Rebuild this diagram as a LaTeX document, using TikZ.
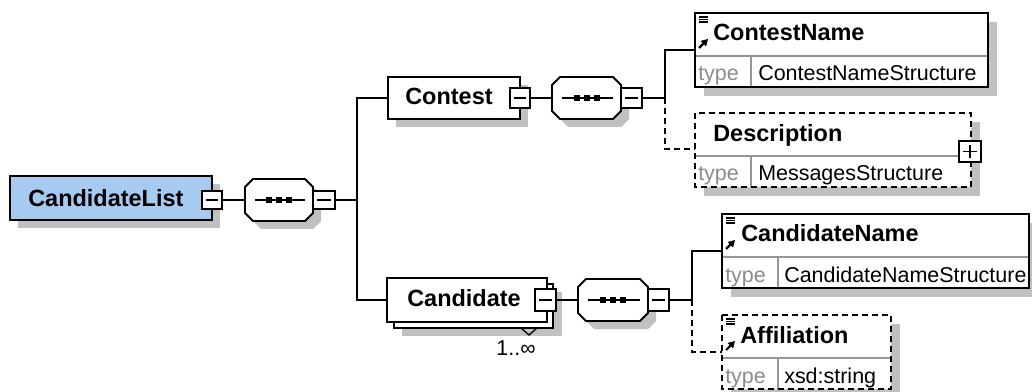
\documentclass[tikz,border=0pt]{standalone}
\usepackage{fontspec}
\setmainfont{Liberation Sans}
\usetikzlibrary{fit,arrows.meta}

\definecolor{shadowgray}{RGB}{192,192,192}
\definecolor{rootblue}{RGB}{166,202,240}
\definecolor{labelgray}{RGB}{140,140,140}
\definecolor{rulegray}{RGB}{150,150,150}

\newcommand\headfont{\fontsize{17.6}{20}\selectfont\bfseries}
\newcommand\bodyfont{\fontsize{16.1}{19}\selectfont}

\tikzset{
  outline/.style={draw=black, line width=1.4pt},
  optional/.style={dash pattern=on 4.5pt off 3pt},
  shadowfill/.style={fill=shadowgray, draw=none},
  conn/.style={draw=black, line width=1.4pt},
  area/.style={inner sep=0pt, outer sep=0pt},
  title/.style={anchor=base west, inner sep=0pt, font=\headfont},
  value/.style={anchor=base west, inner sep=0pt, font=\bodyfont},
  typelabel/.style={anchor=base west, inner sep=0pt, font=\bodyfont, text=labelgray},
  divider/.style={draw=rulegray, line width=0.9pt},
  glyph/.style={line width=1pt},
}

% expand/collapse button: #1 name, (#2,#3)-(#4,#5)
\newcommand\minusbtn[5]{%
  \node[area, fit={(#2,#3) (#4,#5)}, fill=white, outline] (#1) {};
  \draw[glyph] (#2+4,{(#3+#5)/2}) -- (#4-4,{(#3+#5)/2});
}
\newcommand\plusbtn[5]{%
  \minusbtn{#1}{#2}{#3}{#4}{#5}%
  \draw[glyph] ({(#2+#4)/2},#3+4) -- ({(#2+#4)/2},#5-4);
}

% sequence compositor: #1 name, (#2,#3)-(#4,#5)
\newcommand\sequence[5]{%
  \begin{scope}[shift={(8,8)}]
    \fill[shadowfill] (#2+8,#3) -- (#4-8,#3) -- (#4,#3+8) -- (#4,#5-8) -- (#4-8,#5)
      -- (#2+8,#5) -- (#2,#5-8) -- (#2,#3+8) -- cycle;
  \end{scope}
  \filldraw[fill=white, outline] (#2+8,#3) -- (#4-8,#3) -- (#4,#3+8) -- (#4,#5-8) -- (#4-8,#5)
    -- (#2+8,#5) -- (#2,#5-8) -- (#2,#3+8) -- cycle;
  \node[area, fit={(#2,#3) (#4,#5)}] (#1) {};
  \draw[line width=1.3pt] (#2+10,{(#3+#5)/2}) -- (#4-8,{(#3+#5)/2});
  \foreach \d in {-10,0,10}
    \fill ({(#2+#4)/2+\d-3},{(#3+#5)/2-3}) rectangle +(6,6);
}

% element with a type row: #1 name, #2 left, #3 top, #4 right, #5 type split, #6 border style
\newcommand\leafbox[6]{%
  \fill[shadowfill] (#2+9,#3+9) rectangle (#4+9,#3+83);
  \node[area, fit={(#2,#3) (#4,#3+74)}, fill=white] (#1) {};
  \draw[divider] (#2,#3+43) -- (#4,#3+43);
  \draw[divider] (#5,#3+43) -- (#5,#3+74);
  \draw[outline, #6] (#1.north west) rectangle (#1.south east);
}

% global element reference marks: #1 left, #2 top
\newcommand\refmarks[2]{%
  \foreach \k in {4,6.5,9}
    \draw[glyph] (#1+4,#2+\k) -- (#1+13,#2+\k);
  \draw[line width=1.6pt, -{Triangle[length=5pt,width=5.5pt]}] (#1+4,#2+35) -- (#1+13,#2+26);
}

\begin{document}
\begin{tikzpicture}[x=0.75pt,y=-0.75pt]
\useasboundingbox (0,0) rectangle (1032,392);

% ---- root element ----
\fill[shadowfill] (18,184) rectangle (220,228);
\node[area, fit={(10,176) (212,220)}, fill=rootblue, outline] (root) {};
\node[title] (rootlbl) at (28,207) {CandidateList};
\minusbtn{rootm}{202}{191}{222}{209}

\sequence{s1}{245}{179}{313}{221}
\minusbtn{s1m}{313}{191}{335}{209}

% ---- Contest ----
\fill[shadowfill] (396,85) rectangle (528,127);
\node[area, fit={(388,77) (520,119)}, fill=white, outline] (contest) {};
\node[title] (contestlbl) at (405,105) {Contest};
\minusbtn{contestm}{510}{88}{530}{108}

\sequence{s2}{552}{77}{621}{119}
\minusbtn{s2m}{621}{88}{642}{108}

% ---- Candidate (repeated element) ----
\fill[shadowfill] (402,292) rectangle (562,336);
\node[area, fit={(394,284) (553,328)}, fill=white, outline] (candback) {};
\node[area, fit={(387,278) (547,322)}, fill=white, outline] (cand) {};
\node[title] (candlbl) at (407,306) {Candidate};
\draw[glyph] (521,328) -- (529,335) -- (537,328);
\minusbtn{candm}{535}{289}{556}{311}
\node[value, anchor=base] (occurs) at (516,355) {1..∞};

\sequence{s3}{578}{279}{648}{321}
\minusbtn{s3m}{648}{289}{669}{311}

% ---- leaf elements ----
\leafbox{cn}{695}{13}{988}{751}{}
\refmarks{695}{13}
\node[title] at (713,41) {ContestName};
\node[typelabel] at (698,81) {type};
\node[value] at (758,81) {ContestNameStructure};

\leafbox{desc}{695}{113}{971}{751}{optional}
\node[title] at (713,142) {Description};
\node[typelabel] at (698,181) {type};
\node[value] at (758,181) {MessagesStructure};
\plusbtn{descp}{959}{141}{981}{162}

\leafbox{cdn}{722}{214}{1029}{778}{}
\refmarks{722}{214}
\node[title] at (741,242) {CandidateName};
\node[typelabel] at (725,282) {type};
\node[value] at (784,282) {CandidateNameStructure};

\leafbox{aff}{722}{315}{891}{778}{optional}
\refmarks{722}{315}
\node[title] at (740,343) {Affiliation};
\node[typelabel] at (725,383) {type};
\node[value] at (784,383) {xsd:string};

% ---- connectors ----
\coordinate (j1) at (357,200);
\coordinate (j2) at (665,98);
\coordinate (j3) at (692,300);
\coordinate (cn-in) at (695,50);
\coordinate (desc-in) at (695,149);
\coordinate (cdn-in) at (722,251);
\coordinate (aff-in) at (722,352);

\draw[conn] (rootm.east) -- (s1.west);
\draw[conn] (s1m.east) -- (j1);
\draw[conn] (contest.west) -| (j1) |- (cand.west);
\draw[conn] (contestm.east) -- (s2.west);
\draw[conn] (s2m.east) -- (j2);
\draw[conn] (j2) |- (cn-in);
\draw[conn, optional] (j2) |- (desc-in);
\draw[conn] (candm.east) -- (s3.west);
\draw[conn] (s3m.east) -- (j3);
\draw[conn] (j3) |- (cdn-in);
\draw[conn, optional] (j3) |- (aff-in);
\end{tikzpicture}
\end{document}
